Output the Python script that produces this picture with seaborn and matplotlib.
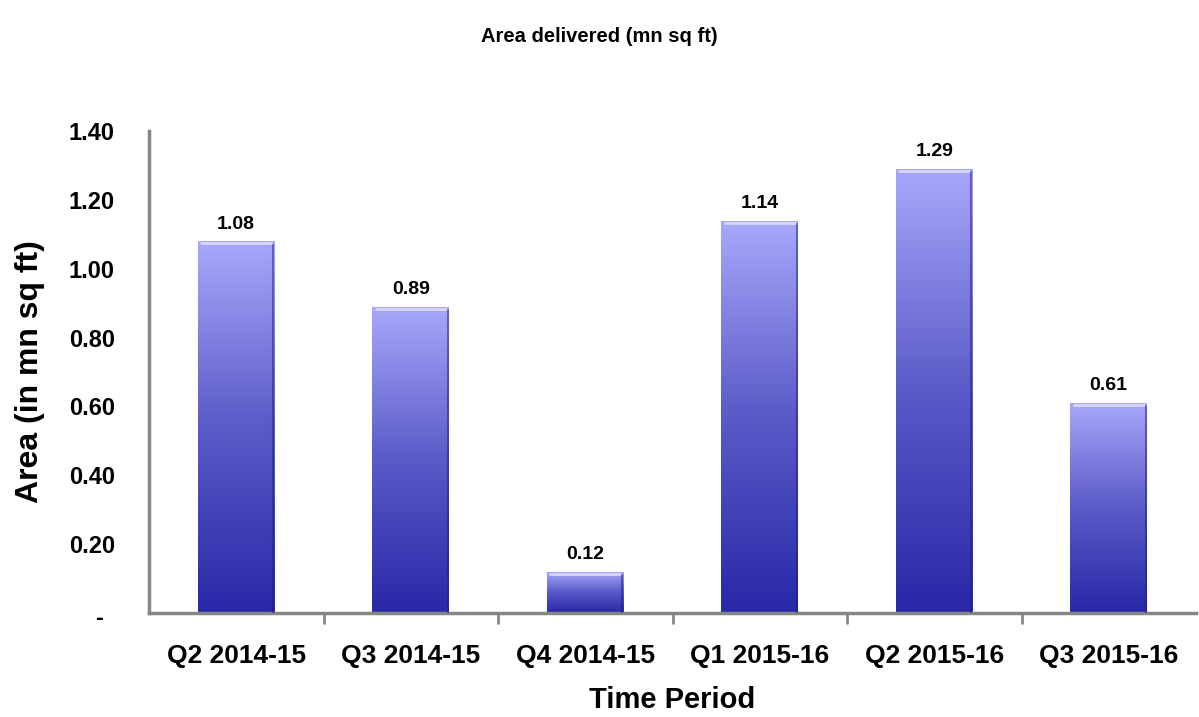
import numpy as np
import pandas as pd
import matplotlib
matplotlib.use("Agg")
import matplotlib.pyplot as plt
import matplotlib.transforms as mtransforms
from matplotlib.colors import LinearSegmentedColormap
import seaborn as sns

periods = ["Q2 2014-15", "Q3 2014-15", "Q4 2014-15", "Q1 2015-16", "Q2 2015-16", "Q3 2015-16"]
area = [1.08, 0.89, 0.12, 1.14, 1.29, 0.61]
yticks = [0.0, 0.2, 0.4, 0.6, 0.8, 1.0, 1.2, 1.4]
ytick_labels = ["-", "0.20", "0.40", "0.60", "0.80", "1.00", "1.20", "1.40"]

sns.set_style("white")
plt.rcParams["font.family"] = ["Liberation Sans", "DejaVu Sans"]
plt.rcParams["text.color"] = "black"
plt.rcParams["axes.labelcolor"] = "black"

df = pd.DataFrame({"period": periods, "area": area})

fig = plt.figure(figsize=(11.99, 7.17), dpi=100)
ax = fig.add_axes([149 / 1199, 1 - 613 / 717, 1047 / 1199, 482 / 717])

sns.barplot(data=df, x="period", y="area", color="#9f9ff5", width=0.44, ax=ax, saturation=1)

# vertical gradient fill, light at the top of each bar, dark at the base
grad_cmap = LinearSegmentedColormap.from_list("bar", ["#2828a8", "#5a5ac8", "#a8a8fb"])
grad = np.linspace(0, 1, 256).reshape(-1, 1)
for patch in ax.patches:
    x0, y0 = patch.get_x(), patch.get_y()
    w, h = patch.get_width(), patch.get_height()
    patch.set_facecolor("none")
    patch.set_edgecolor("none")
    im = ax.imshow(grad, cmap=grad_cmap, origin="lower", aspect="auto",
                   extent=[x0, x0 + w, y0, y0 + h], zorder=2)
    im.set_clip_path(patch)
    # pale highlight along the top edge
    ax.plot([x0 + w * 0.03, x0 + w * 0.97], [y0 + h - 0.006, y0 + h - 0.006],
            color="#d8d8ff", lw=2, zorder=3, solid_capstyle="butt")
    # slight shading on the right edge
    ax.plot([x0 + w * 0.985, x0 + w * 0.985], [y0, y0 + h - 0.01],
            color="#1e1e80", lw=1.5, alpha=0.5, zorder=3)
    ax.text(x0 + w / 2, y0 + h + 0.025, f"{h:.2f}", ha="center", va="bottom",
            fontsize=14, fontweight="bold", color="black")

ax.set_xlim(-0.5, len(periods) - 0.5)
ax.set_ylim(0, 1.4)
ax.set_yticks(yticks)
ax.set_yticklabels(ytick_labels, fontsize=17, fontweight="bold")
ax.set_xticks(range(len(periods)))
ax.set_xticklabels(periods, fontsize=19, fontweight="bold")
ax.tick_params(axis="x", length=0, pad=22, labelcolor="black")
ax.tick_params(axis="y", length=6.5, width=1.4, color="#868686", direction="out",
               pad=18, labelcolor="black")

# the "-" zero label sits a bit further left and lower
zero_lbl = ax.get_yticklabels()[0]
zero_lbl.set_transform(zero_lbl.get_transform() +
                       mtransforms.ScaledTranslation(-12 / 100, -3 / 100, fig.dpi_scale_trans))

# x tick marks sit between the categories
for xb in np.arange(0.5, len(periods) - 0.5, 1.0):
    ax.plot([xb, xb], [0, -0.028], color="#868686", lw=2, clip_on=False, zorder=1)

for side in ["top", "right"]:
    ax.spines[side].set_visible(False)
for side in ["left", "bottom"]:
    ax.spines[side].set_color("#868686")
    ax.spines[side].set_linewidth(2.5)

ax.set_xlabel("Time Period", fontsize=21, fontweight="bold", labelpad=13)
ax.set_ylabel("Area (in mn sq ft)", fontsize=23, fontweight="bold", labelpad=17)
fig.text(0.5, 1 - 36 / 717, "Area delivered (mn sq ft)", ha="center", va="center",
         fontsize=14.5, fontweight="bold")

fig.savefig("out.png", dpi=100)
